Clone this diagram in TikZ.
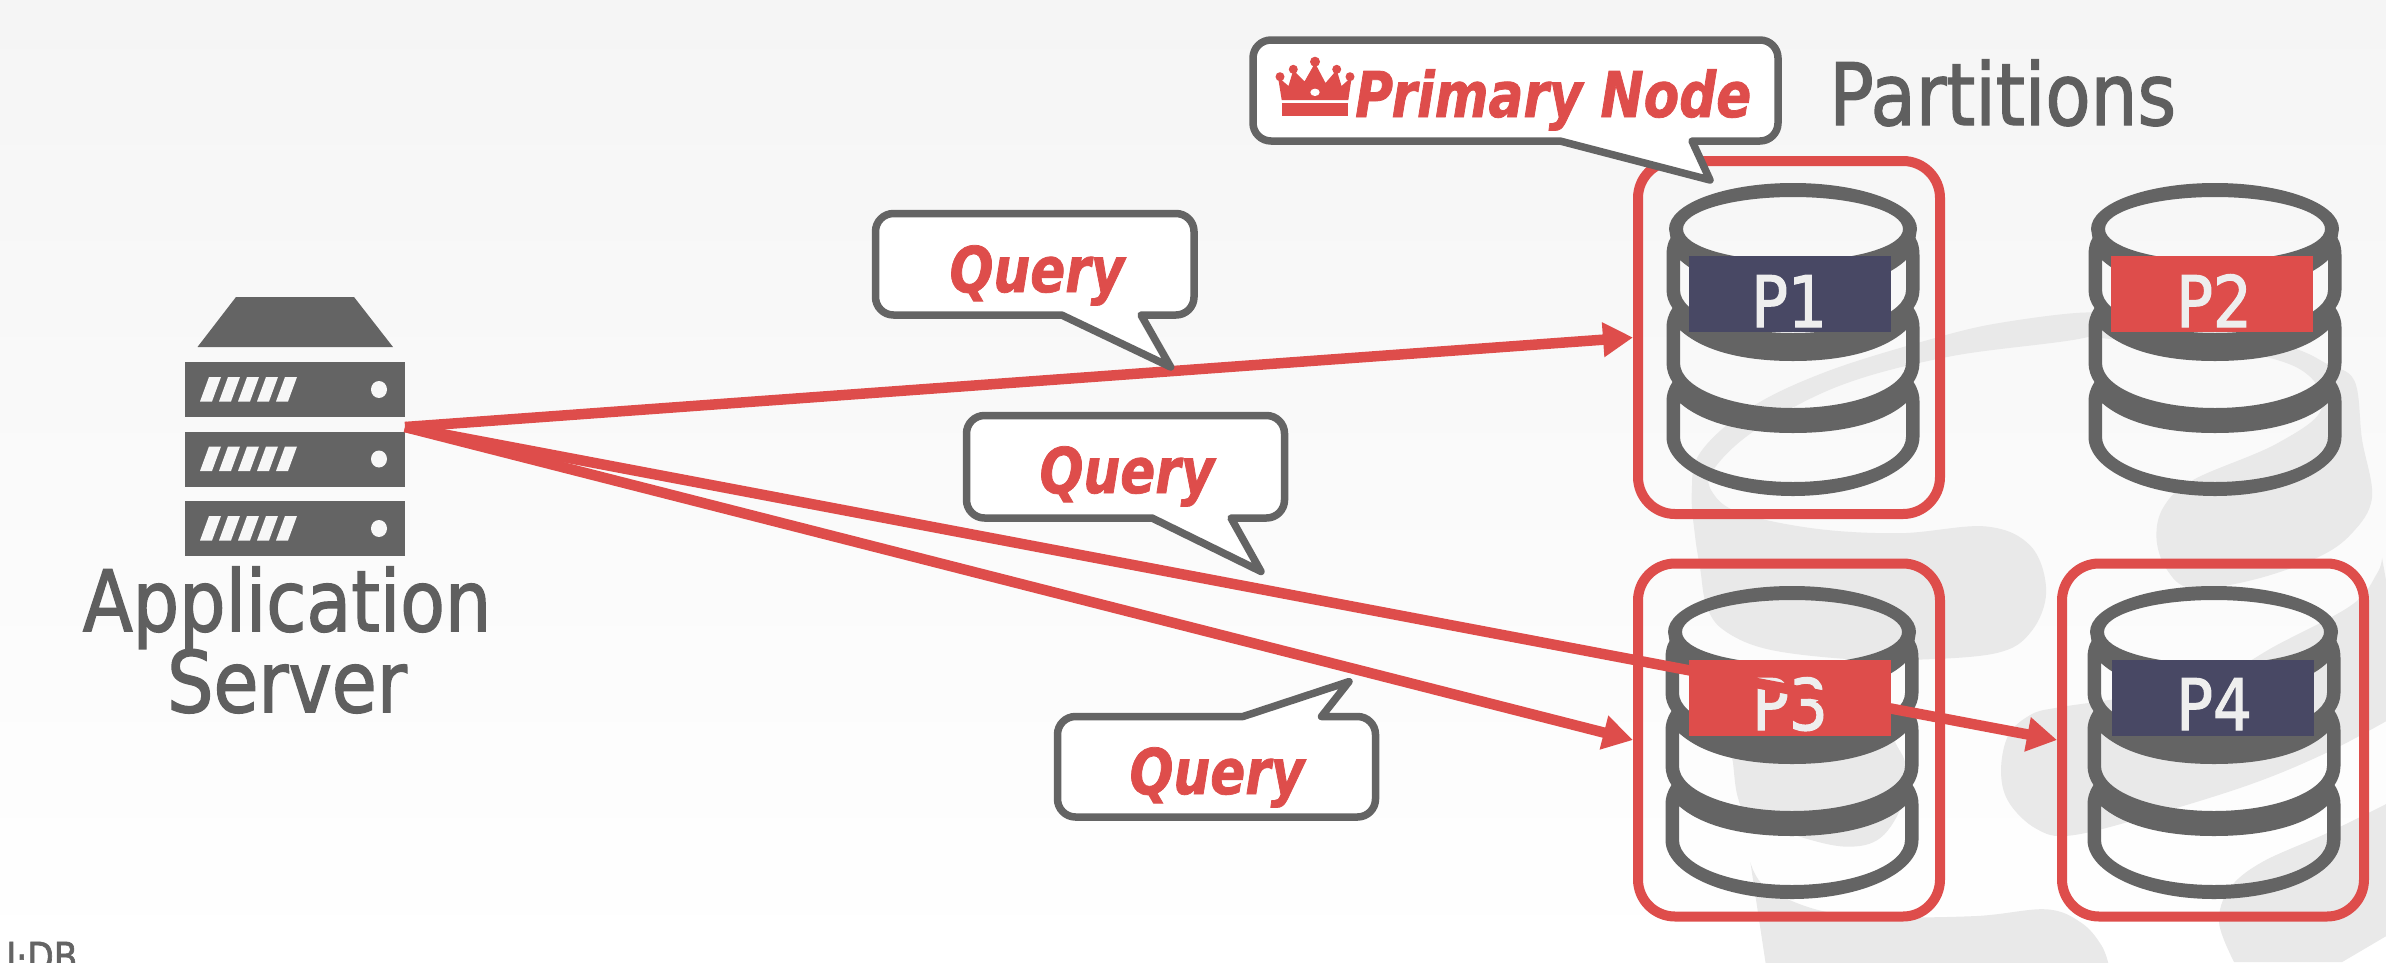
\documentclass[tikz,border=0pt]{standalone}
\usepackage{fontspec}
\usetikzlibrary{arrows.meta}
\setmainfont[FakeStretch=0.86,FakeBold=1.6]{DejaVu Sans}
\newfontfamily\qfont[FakeStretch=0.82,FakeBold=1.2]{DejaVu Sans}
\definecolor{darkgr}{HTML}{646464}
\definecolor{txtgr}{HTML}{5F5F5F}
\definecolor{redc}{HTML}{DE4D4B}
\definecolor{navyc}{HTML}{484864}
\definecolor{wmark}{HTML}{E9E9E9}
\definecolor{ptext}{HTML}{EEEEEE}
\definecolor{bgtop}{HTML}{F5F5F5}
\tikzset{
  redbox/.style={draw=redc,line width=10pt,rounded corners=37pt,minimum width=302pt,minimum height=353pt,inner sep=0pt},
  partbox/.style={minimum width=202pt,minimum height=76pt,inner sep=0pt},
  ptlabel/.style={anchor=base,text=ptext,font=\fontsize{71}{71}\selectfont,inner sep=0pt},
  qarrow/.style={draw=redc,line width=10.5pt,-{Triangle[length=30pt,width=33pt]}},
  bubble/.style={draw=darkgr,fill=white,line width=7.5pt,line join=round},
  qlabel/.style={anchor=base,text=redc,font=\fontsize{63}{63}\selectfont\qfont\bfseries\itshape,inner sep=0pt},
  biglabel/.style={text=txtgr,font=\fontsize{85}{81}\selectfont,inner sep=0pt},
  barstyle/.style={fill=darkgr,minimum width=220pt,minimum height=55pt,inner sep=0pt},
}
\newcommand{\cylicon}[2]{%
  \begin{scope}[shift={(#1,#2)}]
  \fill[darkgr,even odd rule]
    (-124,0) arc[x radius=124pt,y radius=46pt,start angle=180,end angle=0]
    -- (122.5,9) .. controls (125.5,14) and (126.5,20) .. (126.5,26) -- (126.5,61)
    .. controls (126.5,68) and (124,74) .. (120.5,79)
    .. controls (125,86) and (126.5,92) .. (126.5,98) -- (126.5,134)
    .. controls (126.5,141) and (124,148) .. (120.5,153)
    .. controls (125,160) and (126.5,166) .. (126.5,172) -- (126.5,208)
    arc[x radius=126.5pt,y radius=59pt,start angle=0,end angle=-180]
    -- (-126.5,172) .. controls (-126.5,166) and (-125,160) .. (-120.5,153)
    .. controls (-124,148) and (-126.5,141) .. (-126.5,134) -- (-126.5,98)
    .. controls (-126.5,92) and (-125,86) .. (-120.5,79)
    .. controls (-124,74) and (-126.5,68) .. (-126.5,61) -- (-126.5,26)
    .. controls (-126.5,20) and (-125.5,14) .. (-122.5,9) -- cycle
    (0,0) ellipse [x radius=110pt,y radius=32pt]
    (-113,31) .. controls (-90,52) and (-50,62) .. (0,62) .. controls (50,62) and (90,52) .. (113,31)
      -- (113,61) arc[x radius=113pt,y radius=43pt,start angle=0,end angle=-180] -- cycle
    (-113,101) .. controls (-90,122) and (-50,132) .. (0,132) .. controls (50,132) and (90,122) .. (113,101)
      -- (113,134) arc[x radius=113pt,y radius=45pt,start angle=0,end angle=-180] -- cycle
    (-113,174) .. controls (-90,194) and (-50,204) .. (0,204) .. controls (50,204) and (90,194) .. (113,174)
      -- (113,208) arc[x radius=113pt,y radius=45pt,start angle=0,end angle=-180] -- cycle;
  \end{scope}}
\newcommand{\rackbar}[1]{%
  \node[barstyle] (#1) at (295,\barmid) {};
  \foreach \k in {0,...,4}{
    \fill[white!97!black] ({200+19*\k},\barmid+12) -- ({209+19*\k},\barmid-12.5) -- ({221+19*\k},\barmid-12.5) -- ({212+19*\k},\barmid+12) -- cycle;
  }
  \fill[white!97!black] (379,\barmid) ellipse [x radius=8pt,y radius=8.5pt];}
% #1 x1, #2 y1 (top), #3 x2, #4 y2 (bottom), #5 right foot, #6 tip x, #7 tip y, #8 left foot
\newcommand{\bubbledown}[8]{%
  \draw[bubble] ({#1+18},#2) -- ({#3-18},#2) arc[radius=18pt,start angle=90,end angle=0]
    -- (#3,{#4-18}) arc[radius=18pt,start angle=0,end angle=-90]
    -- (#5,#4) -- (#6,#7) -- (#8,#4) -- ({#1+18},#4) arc[radius=18pt,start angle=-90,end angle=-180]
    -- (#1,{#2+18}) arc[radius=18pt,start angle=180,end angle=90] -- cycle;}
\begin{document}
\begin{tikzpicture}[x=1pt,y=-1pt]
\path[use as bounding box] (0,0) rectangle (2386,962);
\shade[top color=bgtop,bottom color=white] (0,0) rectangle (2386,962);

% watermark
\begin{scope}[shift={(1600,260)},x=0.5013pt,y=-0.4478pt]
\fill[wmark] plot[smooth cycle,tension=0.6] coordinates {(990,118)(800,140)(650,180)(450,250)(300,330)(200,430)(183,520)(190,620)(200,690)(212,770)(245,825)(330,868)(480,890)(620,893)(790,878)(860,830)(890,740)(860,640)(770,595)(600,610)(430,600)(280,565)(225,520)(225,470)(310,380)(480,280)(700,215)(980,170)};
\fill[wmark] plot[smooth cycle,tension=0.6] coordinates {(980,118)(1200,135)(1380,195)(1450,232)(1505,270)(1520,400)(1540,530)(1500,610)(1430,665)(1300,715)(1180,733)(1130,690)(1110,620)(1125,550)(1185,490)(1350,410)(1440,330)(1390,240)(1200,190)(980,170)};
\fill[wmark] plot[smooth,tension=0.6] coordinates {(1560,665)(1550,700)(1500,770)(1350,860)(1200,950)(1000,985)(910,1000)(860,1015)(815,1060)(800,1140)(815,1210)(870,1270)(940,1285)(1100,1240)(1300,1170)(1450,1100)(1568,1030)} -- (1575,1030) -- (1575,760) -- cycle;
\fill[wmark] plot[smooth,tension=0.6] coordinates {(1568,1215)(1450,1280)(1320,1345)(1255,1405)(1235,1480)(1265,1568)} -- (1480,1568) -- (1568,1510) -- cycle;
\fill[wmark] plot[smooth,tension=0.6] coordinates {(300,1345)(330,1400)(430,1450)(550,1467)(750,1465)(890,1450)(960,1480)(1000,1530)(1015,1575)} -- (331,1575) -- cycle;
\fill[wmark] plot[smooth cycle,tension=0.6] coordinates {(258,1050)(265,1120)(275,1200)(300,1245)(390,1285)(490,1310)(560,1290)(605,1210)(610,1130)(590,1080)(560,1020)(400,1000)};
\end{scope}

% server
\fill[darkgr] (236,297) -- (354,297) -- (393,347) -- (197.5,347) -- cycle;
\def\barmid{389.5}\rackbar{bara}
\def\barmid{459}\rackbar{barb}
\def\barmid{528.5}\rackbar{barc}
\node[biglabel,align=center] (appserver) at (287,640) {Application\\Server};
\coordinate (srv) at (405,427);

% cylinders
\cylicon{1793}{229}
\cylicon{2215}{229}
\cylicon{1792}{632}
\cylicon{2214}{632}

% red selection boxes
\node[redbox] (box1) at (1789,337.5) {};
\node[redbox] (box3) at (1789,740) {};
\node[redbox] (box4) at (2213,740) {};

% partition labels
\node[partbox,fill=navyc] (p1) at (1790,294) {};
\node[ptlabel] (t1) at (1789,327) {P1};
\node[partbox,fill=redc] (p2) at (2212,294) {};
\node[ptlabel] (t2) at (2214,327) {P2};
\node[partbox,fill=redc] (p3) at (1790,697.5) {};
\node[ptlabel] (t3) at (1790,730) {P3};
\node[partbox,fill=navyc] (p4) at (2213,697.5) {};
\node[ptlabel] (t4) at (2214,730) {P4};

\node[biglabel,anchor=base west,font=\fontsize{86}{81}\selectfont] (parts) at (1829,125) {Partitions};
\node[anchor=base west,text=darkgr,font=\fontsize{40}{40}\selectfont,inner sep=0pt] (logo) at (6,971) {I·DB};

% arrows
\draw[qarrow] (srv) -- (box1.west);
\draw[qarrow] (srv) -- (box4.west);
\draw[qarrow] (srv) -- (box3.west);

% callouts
\bubbledown{1253}{40}{1778}{141}{1692}{1710}{180}{1560}
\fill[redc] (1282.3,103.3) rectangle (1348.3,116);
\fill[redc] (1281.7,100) -- (1278,77) -- (1288.5,86) -- (1293.3,70) -- (1304.5,81.5) -- (1315,63) -- (1325.5,83) -- (1336.7,70) -- (1341.5,86) -- (1351.7,77) -- (1348.3,100) -- cycle;
\foreach \bx/\by/\br in {1280/76.7/4.5,1293.3/69.3/4.5,1315/61.7/5,1336.7/69.3/4.5,1350/76.7/4.5}{\fill[redc] (\bx,\by) circle[radius=\br pt];}
\fill[white] (1315,92.3) ellipse [x radius=4.7pt,y radius=3.7pt];
\node[qlabel,anchor=base west] (primary) at (1355,117) {Primary Node};

\bubbledown{875.5}{213.5}{1194}{315}{1141}{1170.7}{367}{1061.6}
\node[qlabel] (q1) at (1037,292) {Query};
\bubbledown{966.5}{415.5}{1284.5}{518}{1231}{1261}{571.5}{1152}
\node[qlabel] (q2) at (1127,493) {Query};
\draw[bubble] (1075.5,817) -- (1357.5,817) arc[radius=18pt,start angle=-90,end angle=0]
  -- (1375.5,734.5) arc[radius=18pt,start angle=0,end angle=90]
  -- (1321.5,716.5) -- (1349,681.6) -- (1243,716.5) -- (1075.5,716.5) arc[radius=18pt,start angle=90,end angle=180]
  -- (1057.5,799) arc[radius=18pt,start angle=180,end angle=270] -- cycle;
\node[qlabel] (q3) at (1217,794) {Query};
\end{tikzpicture}
\end{document}
